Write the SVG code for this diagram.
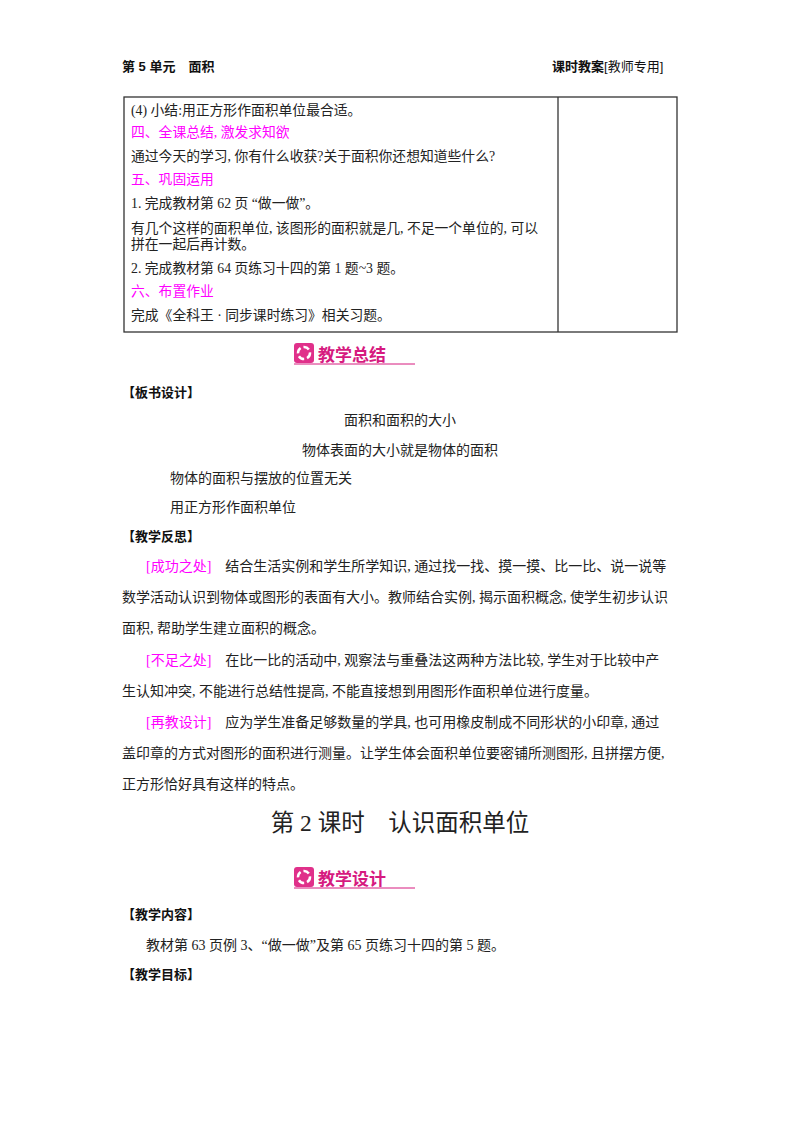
<svg xmlns="http://www.w3.org/2000/svg" width="800" height="1132" viewBox="0 0 800 1132">
<style>
text{font-family:"Liberation Serif","Noto Sans CJK SC",serif;font-size:13.8px;fill:#222}
.h{font-family:"Liberation Sans","Noto Sans CJK SC",sans-serif;font-weight:bold;font-size:13px;fill:#111}
.p{fill:#f0f}
.b{font-size:14px}
.pk{fill:#e0308a}
.ban{font-family:"Noto Sans CJK SC",sans-serif;font-weight:bold;font-size:17px;fill:#d61a7f}
</style>
<rect width="800" height="1132" fill="#fff"/>
<text class="h" x="122" y="71">第 5 单元　面积</text>
<text class="h" x="552" y="71">课时教案<tspan font-weight="normal">[教师专用]</tspan></text>
<g id="table">
<rect x="124" y="97" width="553" height="235" fill="none" stroke="#333" stroke-width="1.3"/>
<line x1="558" y1="97" x2="558" y2="332" stroke="#333" stroke-width="1.3"/>
<text x="131" y="115">(4) 小结:用正方形作面积单位最合适。</text>
<text class="p" x="131" y="137">四、全课总结, 激发求知欲</text>
<text x="131" y="161">通过今天的学习, 你有什么收获?关于面积你还想知道些什么?</text>
<text class="p" x="131" y="184">五、巩固运用</text>
<text x="131" y="208">1. 完成教材第 62 页 “做一做”。</text>
<text x="131" y="233">有几个这样的面积单位, 该图形的面积就是几, 不足一个单位的, 可以</text>
<text x="131" y="249">拼在一起后再计数。</text>
<text x="131" y="273">2. 完成教材第 64 页练习十四的第 1 题~3 题。</text>
<text class="p" x="131" y="296">六、布置作业</text>
<text x="131" y="320">完成《全科王 · 同步课时练习》相关习题。</text>
</g>
<g id="banner1">
<rect x="294" y="343" width="20" height="20" rx="3" class="pk"/>
<circle cx="304" cy="353" r="6" fill="none" stroke="#fff" stroke-width="2.5" stroke-dasharray="6 3"/>
<text class="ban" x="318" y="361">教学总结</text>
<line x1="294" y1="364" x2="415" y2="364" stroke="#d61a7f" stroke-width="1"/>
</g>
<text class="h" x="122" y="397">【板书设计】</text>
<text class="b" x="400" y="425" text-anchor="middle">面积和面积的大小</text>
<text class="b" x="400" y="455" text-anchor="middle">物体表面的大小就是物体的面积</text>
<text class="b" x="170" y="483">物体的面积与摆放的位置无关</text>
<text class="b" x="170" y="512">用正方形作面积单位</text>
<text class="h" x="122" y="541">【教学反思】</text>
<text class="b" x="146" y="571"><tspan class="p">[成功之处]</tspan>　结合生活实例和学生所学知识, 通过找一找、摸一摸、比一比、说一说等</text>
<text class="b" x="122" y="602">数学活动认识到物体或图形的表面有大小。教师结合实例, 揭示面积概念, 使学生初步认识</text>
<text class="b" x="122" y="633">面积, 帮助学生建立面积的概念。</text>
<text class="b" x="146" y="665"><tspan class="p">[不足之处]</tspan>　在比一比的活动中, 观察法与重叠法这两种方法比较, 学生对于比较中产</text>
<text class="b" x="122" y="696">生认知冲突, 不能进行总结性提高, 不能直接想到用图形作面积单位进行度量。</text>
<text class="b" x="146" y="727"><tspan class="p">[再教设计]</tspan>　应为学生准备足够数量的学具, 也可用橡皮制成不同形状的小印章, 通过</text>
<text class="b" x="122" y="758">盖印章的方式对图形的面积进行测量。让学生体会面积单位要密铺所测图形, 且拼摆方便,</text>
<text class="b" x="122" y="789">正方形恰好具有这样的特点。</text>
<text x="400" y="831" text-anchor="middle" style="font-size:23.5px">第 2 课时　认识面积单位</text>
<g id="banner2">
<rect x="294" y="867" width="20" height="20" rx="3" class="pk"/>
<circle cx="304" cy="877" r="6" fill="none" stroke="#fff" stroke-width="2.5" stroke-dasharray="6 3"/>
<text class="ban" x="318" y="885">教学设计</text>
<line x1="294" y1="888" x2="415" y2="888" stroke="#d61a7f" stroke-width="1"/>
</g>
<text class="h" x="122" y="919">【教学内容】</text>
<text class="b" x="146" y="950">教材第 63 页例 3、“做一做”及第 65 页练习十四的第 5 题。</text>
<text class="h" x="122" y="979">【教学目标】</text>
</svg>
